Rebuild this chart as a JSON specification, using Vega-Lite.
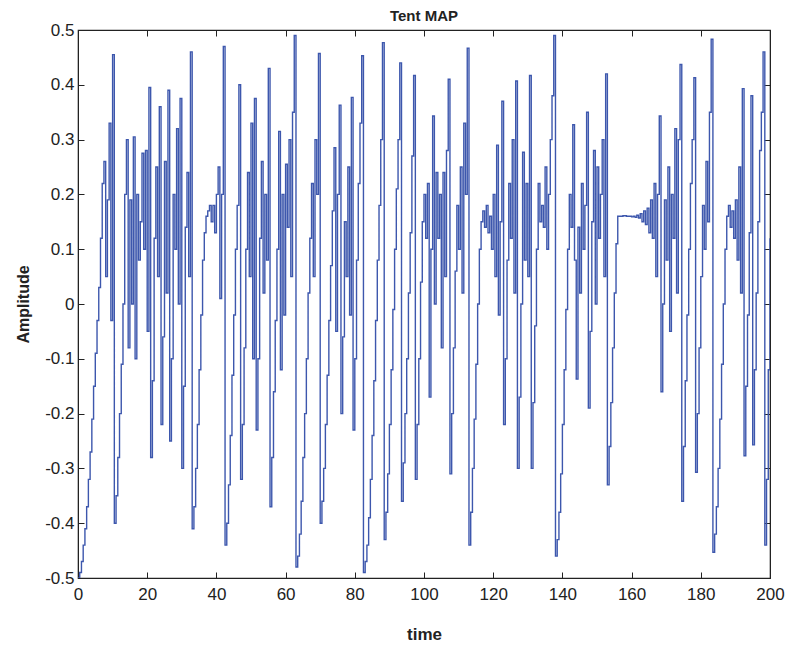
{
"$schema": "https://vega.github.io/schema/vega-lite/v6.json",
"width": 692, "height": 548,
"autosize": "none",
"padding": {"left": 78, "top": 30, "right": 22, "bottom": 72},
"background": "white",
"title": {"text": "Tent MAP", "fontSize": 15, "fontWeight": "bold", "font": "Liberation Sans", "color": "#222", "baseline": "top", "offset": 7, "dy": 10},
"config": {
 "view": {"stroke": "#222", "strokeWidth": 1.2},
 "axis": {"grid": false, "domainColor": "#222", "tickColor": "#222", "labelColor": "#222", "titleColor": "#222", "labelFont": "Liberation Sans", "titleFont": "Liberation Sans", "labelFontSize": 17, "titleFontSize": 17, "titleFontWeight": "bold", "tickSize": -6, "labelFlush": false, "labelOverlap": false}
},
"data": {"values": [
{"t":0,"a":-0.5},{"t":0.5,"a":-0.49},{"t":1,"a":-0.47},{"t":1.5,"a":-0.44},{"t":2,"a":-0.41},{"t":2.5,"a":-0.37},{"t":3,"a":-0.32},{"t":3.5,"a":-0.27},{"t":4,"a":-0.21},{"t":4.5,"a":-0.15},{"t":5,"a":-0.09},{"t":5.5,"a":-0.03},{"t":6,"a":0.03},{"t":6.5,"a":0.12},{"t":7,"a":0.22},{"t":7.5,"a":0.26},{"t":8,"a":0.05},{"t":8.5,"a":0.19},{"t":9,"a":0.33},{"t":9.5,"a":-0.03},{"t":10,"a":0.455},{"t":10.5,"a":-0.4},{"t":11,"a":-0.35},{"t":11.5,"a":-0.28},{"t":12,"a":-0.2},{"t":12.5,"a":-0.11},{"t":13,"a":0.0},
{"t":13.5,"a":0.2},{"t":14,"a":0.3},{"t":14.5,"a":-0.08},{"t":15,"a":0.19},{"t":15.5,"a":0.0},{"t":16,"a":0.305},{"t":16.5,"a":-0.1},{"t":17,"a":0.2},{"t":17.5,"a":0.08},{"t":18,"a":0.15},{"t":18.5,"a":0.275},{"t":19,"a":0.1},{"t":19.5,"a":0.28},{"t":20,"a":-0.05},{"t":20.5,"a":0.395},{"t":21,"a":-0.28},{"t":21.5,"a":-0.14},{"t":22,"a":0.12},{"t":22.5,"a":0.25},{"t":23,"a":0.05},{"t":23.5,"a":0.36},{"t":24,"a":-0.22},{"t":24.5,"a":-0.06},{"t":25,"a":0.26},{"t":25.5,"a":0.02},{"t":26,"a":0.39},{"t":26.5,"a":-0.25},{"t":27,"a":-0.1},{"t":27.5,"a":0.2},{"t":28,"a":0.1},{"t":28.5,"a":0.32},{"t":29,"a":0.0},{"t":29.5,"a":0.375},{"t":30,"a":-0.3},{"t":30.5,"a":-0.15},{"t":31,"a":0.14},{"t":31.5,"a":0.24},{"t":32,"a":0.05},{"t":32.5,"a":0.46},{"t":33,"a":-0.41},
{"t":33.5,"a":-0.37},{"t":34,"a":-0.3},{"t":34.5,"a":-0.22},{"t":35,"a":-0.12},{"t":35.5,"a":-0.02},{"t":36,"a":0.08},{"t":36.5,"a":0.13},{"t":37,"a":0.16},{"t":37.5,"a":0.17},{"t":38,"a":0.18},{"t":38.5,"a":0.15},{"t":39,"a":0.18},{"t":39.5,"a":0.13},{"t":40,"a":0.2},{"t":40.5,"a":0.25},{"t":41,"a":0.01},{"t":41.5,"a":0.2},{"t":42,"a":0.47},{"t":42.5,"a":-0.44},
{"t":43,"a":-0.4},{"t":43.5,"a":-0.33},{"t":44,"a":-0.24},{"t":44.5,"a":-0.13},{"t":45,"a":-0.02},{"t":45.5,"a":0.1},{"t":46,"a":0.18},{"t":46.5,"a":0.4},{"t":47,"a":-0.32},{"t":47.5,"a":-0.22},{"t":48,"a":-0.08},{"t":48.5,"a":0.1},{"t":49,"a":0.24},{"t":49.5,"a":0.05},{"t":50,"a":0.33},{"t":50.5,"a":-0.1},{"t":51,"a":0.375},{"t":51.5,"a":-0.23},{"t":52,"a":-0.1},{"t":52.5,"a":0.12},{"t":53,"a":0.26},{"t":53.5,"a":0.02},{"t":54,"a":0.2},{"t":54.5,"a":0.08},{"t":55,"a":0.43},{"t":55.5,"a":-0.37},{"t":56,"a":-0.28},{"t":56.5,"a":-0.16},{"t":57,"a":-0.03},{"t":57.5,"a":0.1},{"t":58,"a":0.315},{"t":58.5,"a":-0.12},{"t":59,"a":0.2},{"t":59.5,"a":-0.02},{"t":60,"a":0.255},{"t":60.5,"a":0.14},{"t":61,"a":0.3},{"t":61.5,"a":0.05},{"t":62,"a":0.35},{"t":62.5,"a":0.49},{"t":63,"a":-0.48},
{"t":63.5,"a":-0.46},{"t":64,"a":-0.42},{"t":64.5,"a":-0.36},{"t":65,"a":-0.28},{"t":65.5,"a":-0.2},{"t":66,"a":-0.1},{"t":66.5,"a":0.02},{"t":67,"a":0.12},{"t":67.5,"a":0.22},{"t":68,"a":0.05},{"t":68.5,"a":0.3},{"t":69,"a":0.2},{"t":69.5,"a":0.457},{"t":70,"a":-0.4},{"t":70.5,"a":-0.36},{"t":71,"a":-0.3},{"t":71.5,"a":-0.22},{"t":72,"a":-0.13},{"t":72.5,"a":-0.03},{"t":73,"a":0.07},{"t":73.5,"a":0.17},{"t":74,"a":0.285},{"t":74.5,"a":-0.05},{"t":75,"a":0.2},{"t":75.5,"a":0.363},{"t":76,"a":-0.2},{"t":76.5,"a":-0.06},{"t":77,"a":0.15},{"t":77.5,"a":0.05},{"t":78,"a":0.25},{"t":78.5,"a":-0.02},{"t":79,"a":0.377},{"t":79.5,"a":-0.23},{"t":80,"a":-0.1},{"t":80.5,"a":0.08},{"t":81,"a":0.22},{"t":81.5,"a":0.33},{"t":82,"a":0.453},{"t":82.5,"a":-0.49},
{"t":83,"a":-0.47},{"t":83.5,"a":-0.44},{"t":84,"a":-0.39},{"t":84.5,"a":-0.32},{"t":85,"a":-0.24},{"t":85.5,"a":-0.14},{"t":86,"a":-0.03},{"t":86.5,"a":0.08},{"t":87,"a":0.18},{"t":87.5,"a":0.3},{"t":88,"a":0.477},{"t":88.5,"a":-0.43},{"t":89,"a":-0.38},{"t":89.5,"a":-0.31},{"t":90,"a":-0.22},{"t":90.5,"a":-0.12},{"t":91,"a":-0.01},{"t":91.5,"a":0.1},{"t":92,"a":0.21},{"t":92.5,"a":0.3},{"t":93,"a":0.44},{"t":93.5,"a":-0.36},{"t":94,"a":-0.29},{"t":94.5,"a":-0.2},{"t":95,"a":-0.1},{"t":95.5,"a":0.02},{"t":96,"a":0.13},{"t":96.5,"a":0.27},{"t":97,"a":0.417},{"t":97.5,"a":-0.32},
{"t":98,"a":-0.22},{"t":98.5,"a":-0.1},{"t":99,"a":0.04},{"t":99.5,"a":0.15},{"t":100,"a":0.2},{"t":100.5,"a":0.12},{"t":101,"a":0.22},{"t":101.5,"a":-0.17},{"t":102,"a":0.1},{"t":102.5,"a":0.343},{"t":103,"a":0.0},{"t":103.5,"a":0.24},{"t":104,"a":0.12},{"t":104.5,"a":0.2},{"t":105,"a":-0.08},{"t":105.5,"a":0.24},{"t":106,"a":0.05},{"t":106.5,"a":0.28},{"t":107,"a":0.41},{"t":107.5,"a":-0.31},{"t":108,"a":-0.2},{"t":108.5,"a":-0.08},{"t":109,"a":0.06},{"t":109.5,"a":0.18},{"t":110,"a":0.1},{"t":110.5,"a":0.25},{"t":111,"a":0.02},{"t":111.5,"a":0.33},{"t":112,"a":0.2},{"t":112.5,"a":0.467},{"t":113,"a":-0.44},
{"t":113.5,"a":-0.38},{"t":114,"a":-0.3},{"t":114.5,"a":-0.21},{"t":115,"a":-0.11},{"t":115.5,"a":0.0},{"t":116,"a":0.1},{"t":116.5,"a":0.15},{"t":117,"a":0.17},{"t":117.5,"a":0.14},{"t":118,"a":0.18},{"t":118.5,"a":0.13},{"t":119,"a":0.16},{"t":119.5,"a":0.1},{"t":120,"a":0.2},{"t":120.5,"a":0.05},{"t":121,"a":0.29},{"t":121.5,"a":-0.02},{"t":122,"a":0.15},{"t":122.5,"a":0.37},{"t":123,"a":-0.22},{"t":123.5,"a":-0.1},{"t":124,"a":0.08},{"t":124.5,"a":0.22},{"t":125,"a":0.12},{"t":125.5,"a":0.3},{"t":126,"a":0.02},{"t":126.5,"a":0.407},{"t":127,"a":-0.3},{"t":127.5,"a":-0.17},{"t":128,"a":0.0},{"t":128.5,"a":0.277},{"t":129,"a":0.08},{"t":129.5,"a":0.22},{"t":130,"a":0.05},{"t":130.5,"a":0.417},{"t":131,"a":-0.3},{"t":131.5,"a":-0.18},{"t":132,"a":-0.04},{"t":132.5,"a":0.1},{"t":133,"a":0.22},{"t":133.5,"a":0.15},{"t":134,"a":0.18},{"t":134.5,"a":0.14},{"t":135,"a":0.25},{"t":135.5,"a":0.1},{"t":136,"a":0.2},{"t":136.5,"a":0.3},{"t":137,"a":0.38},{"t":137.5,"a":0.49},{"t":138,"a":-0.46},
{"t":138.5,"a":-0.43},{"t":139,"a":-0.38},{"t":139.5,"a":-0.31},{"t":140,"a":-0.22},{"t":140.5,"a":-0.12},{"t":141,"a":-0.01},{"t":141.5,"a":0.1},{"t":142,"a":0.2},{"t":142.5,"a":0.14},{"t":143,"a":0.327},{"t":143.5,"a":0.08},{"t":144,"a":-0.137},{"t":144.5,"a":0.14},{"t":145,"a":0.02},{"t":145.5,"a":0.22},{"t":146,"a":0.1},{"t":146.5,"a":0.18},{"t":147,"a":0.35},{"t":147.5,"a":-0.19},{"t":148,"a":-0.05},{"t":148.5,"a":0.15},{"t":149,"a":0.28},{"t":149.5,"a":0.0},{"t":150,"a":0.25},{"t":150.5,"a":0.12},{"t":151,"a":0.2},{"t":151.5,"a":0.3},{"t":152,"a":0.05},{"t":152.5,"a":0.42},{"t":153,"a":-0.33},{"t":153.5,"a":-0.26},{"t":154,"a":-0.18},{"t":154.5,"a":-0.08},{"t":155,"a":0.02},{"t":155.5,"a":0.11},{"t":156,"a":0.16},
{"t":156.5,"a":0.16},{"t":157,"a":0.16},{"t":157.5,"a":0.161},{"t":158,"a":0.161},{"t":158.5,"a":0.16},{"t":159,"a":0.16},{"t":159.5,"a":0.16},{"t":160,"a":0.159},{"t":160.5,"a":0.16},{"t":161,"a":0.158},{"t":161.5,"a":0.162},{"t":162,"a":0.157},
{"t":162.5,"a":0.165},{"t":163,"a":0.15},{"t":163.5,"a":0.17},{"t":164,"a":0.145},{"t":164.5,"a":0.175},{"t":165,"a":0.13},{"t":165.5,"a":0.19},{"t":166,"a":0.12},{"t":166.5,"a":0.22},{"t":167,"a":0.05},{"t":167.5,"a":0.2},{"t":168,"a":0.343},{"t":168.5,"a":-0.16},{"t":169,"a":0.0},{"t":169.5,"a":0.19},{"t":170,"a":0.08},{"t":170.5,"a":0.25},{"t":171,"a":-0.05},{"t":171.5,"a":0.2},{"t":172,"a":0.12},{"t":172.5,"a":0.32},{"t":173,"a":0.02},{"t":173.5,"a":0.3},{"t":174,"a":0.437},{"t":174.5,"a":-0.36},{"t":175,"a":-0.26},{"t":175.5,"a":-0.14},{"t":176,"a":-0.02},{"t":176.5,"a":0.1},{"t":177,"a":0.22},{"t":177.5,"a":0.3},{"t":178,"a":0.413},{"t":178.5,"a":-0.307},{"t":179,"a":-0.2},{"t":179.5,"a":-0.08},{"t":180,"a":0.05},{"t":180.5,"a":0.18},{"t":181,"a":0.1},{"t":181.5,"a":0.26},{"t":182,"a":0.15},{"t":182.5,"a":0.35},{"t":183,"a":0.483},{"t":183.5,"a":-0.453},
{"t":184,"a":-0.42},{"t":184.5,"a":-0.37},{"t":185,"a":-0.3},{"t":185.5,"a":-0.21},{"t":186,"a":-0.11},{"t":186.5,"a":0.0},{"t":187,"a":0.1},{"t":187.5,"a":0.16},{"t":188,"a":0.18},{"t":188.5,"a":0.14},{"t":189,"a":0.17},{"t":189.5,"a":0.12},{"t":190,"a":0.19},{"t":190.5,"a":0.08},{"t":191,"a":0.25},{"t":191.5,"a":0.02},{"t":192,"a":0.393},{"t":192.5,"a":-0.277},{"t":193,"a":-0.15},{"t":193.5,"a":-0.02},{"t":194,"a":0.13},{"t":194.5,"a":0.38},{"t":195,"a":-0.257},{"t":195.5,"a":-0.12},{"t":196,"a":0.02},{"t":196.5,"a":0.15},{"t":197,"a":0.28},{"t":197.5,"a":0.35},{"t":198,"a":0.46},{"t":198.5,"a":-0.44},{"t":199,"a":-0.32},{"t":199.5,"a":-0.12},{"t":200,"a":0.12}
]},
"layer": [
 {"mark": {"type": "line", "interpolate": "step-after", "color": "#3d57ad", "strokeWidth": 1.4, "clip": true},
  "encoding": {
   "x": {"field": "t", "type": "quantitative", "scale": {"domain": [0, 200], "nice": false},
         "axis": {"orient": "bottom", "title": "time", "values": [0,20,40,60,80,100,120,140,160,180,200], "labelPadding": 14, "titlePadding": 24}},
   "y": {"field": "a", "type": "quantitative", "scale": {"domain": [-0.5, 0.5], "nice": false},
         "axis": {"orient": "left", "title": "Amplitude", "titleFontSize": 16, "values": [-0.5,-0.4,-0.3,-0.2,-0.1,0,0.1,0.2,0.3,0.4,0.5], "labelExpr": "datum.value < 0 ? '-' + format(-datum.value, '.1~f') : format(datum.value, '.1~f')", "labelPadding": 10, "titlePadding": 13}}
  }},
 {"mark": {"type": "line", "opacity": 0},
  "encoding": {
   "x": {"field": "t", "type": "quantitative", "axis": {"orient": "top", "title": null, "labels": false, "values": [0,20,40,60,80,100,120,140,160,180,200]}},
   "y": {"field": "a", "type": "quantitative", "axis": {"orient": "right", "title": null, "labels": false, "values": [-0.5,-0.4,-0.3,-0.2,-0.1,0,0.1,0.2,0.3,0.4,0.5]}}
  }}
],
"resolve": {"axis": {"x": "independent", "y": "independent"}}
}
